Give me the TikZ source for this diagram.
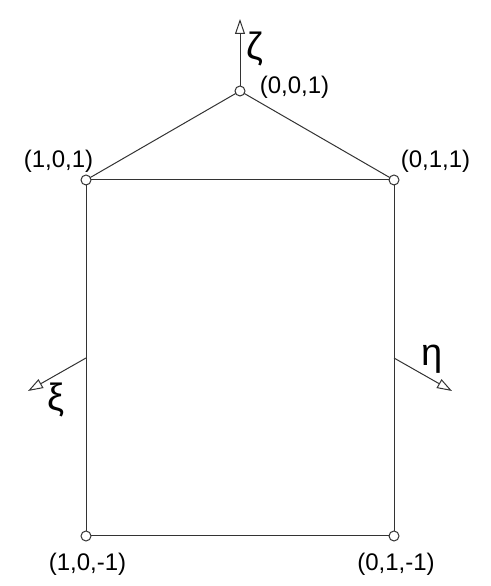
\documentclass[tikz,border=0pt]{standalone}
\usepackage{tkz-graph}
\usepackage{fontspec}
\setmainfont{Liberation Sans}
\setsansfont{Liberation Sans}
\usetikzlibrary{arrows.meta}

\begin{document}
\begin{tikzpicture}[x = 1pt, y = 1pt]
\tikzstyle{VertexStyle}=[
shape = circle, 
minimum size = 10pt,
inner sep = 0pt,
line width = 1pt,
draw = black!80,
fill = white]
\tikzstyle{EdgeStyle}=[
line width = 1pt,
draw = black!80]
\tikzstyle{axis}=[
-{Triangle[open, length = 15pt, width = 10pt]}]
\tikzstyle{coordlabel}=[
font = \fontsize{24}{28}\selectfont,
inner sep = 0pt]
\tikzstyle{axislabel}=[
font = \fontsize{38}{42}\selectfont,
inner sep = 0pt]
\useasboundingbox (0, 0) rectangle (490, 586);
\Vertex[x = 240, y = 495, NoLabel]{v1}
\Vertex[x = 86, y = 406, NoLabel]{v2}
\Vertex[x = 394, y = 406, NoLabel]{v3}
\Vertex[x = 86, y = 50, NoLabel]{v4}
\Vertex[x = 394, y = 50, NoLabel]{v5}
\coordinate (zetatip) at (240, 567);
\coordinate (xistart) at (86, 228);
\coordinate (xitip) at (28, 195);
\coordinate (etastart) at (394, 228);
\coordinate (etatip) at (452, 195);
\Edge(v1)(v2)
\Edge(v1)(v3)
\Edge(v2)(v3)
\Edge(v2)(v4)
\Edge(v3)(v5)
\Edge(v4)(v5)
\Edge[style = {axis}](v1)(zetatip)
\Edge[style = {axis}](xistart)(xitip)
\Edge[style = {axis}](etastart)(etatip)
\node[coordlabel] (l1) at (294.5, 499) {(0,0,1)};
\node[coordlabel] (l2) at (58.5, 425) {(1,0,1)};
\node[coordlabel] (l3) at (435.5, 425) {(0,1,1)};
\node[coordlabel] (l4) at (87.5, 22) {(1,0,-1)};
\node[coordlabel] (l5) at (396, 22) {(0,1,-1)};
\node[axislabel] (zeta) at (255, 537) {ζ};
\node[axislabel] (xi) at (56.5, 186) {ξ};
\node[axislabel] (eta) at (432, 227) {η};
\end{tikzpicture}
\end{document}
